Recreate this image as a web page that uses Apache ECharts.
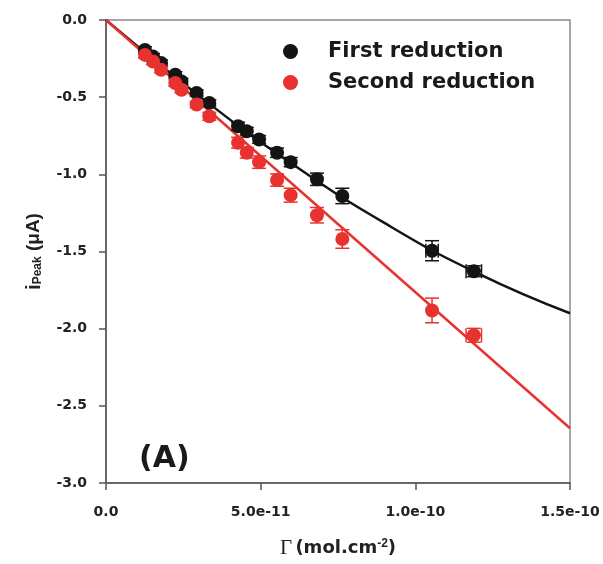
<!DOCTYPE html>
<html>
<head>
<meta charset="utf-8">
<script src="https://cdn.jsdelivr.net/npm/echarts@6/dist/echarts.min.js"></script>
<style>
html,body{margin:0;padding:0;background:#fff;}
#chart{width:603px;height:564px;}
</style>
</head>
<body>
<div id="chart"></div>
<script>
// Gamma values in units of 1e-11 mol.cm^-2
var gammaE11 = [1.26, 1.52, 1.78, 2.24, 2.44, 2.93, 3.34, 4.27, 4.55, 4.95, 5.53, 5.97, 6.82, 7.64, 10.54, 11.89];
var firstPeak = [-0.194, -0.237, -0.279, -0.355, -0.398, -0.473, -0.537, -0.688, -0.721, -0.774, -0.860, -0.921, -1.032, -1.140, -1.495, -1.628];
var secondPeak = [-0.226, -0.269, -0.323, -0.408, -0.452, -0.548, -0.624, -0.795, -0.860, -0.921, -1.037, -1.135, -1.265, -1.419, -1.882, -2.043];
var firstErrY = [0.02, 0.02, 0.02, 0.02, 0.02, 0.02, 0.02, 0.025, 0.025, 0.025, 0.03, 0.03, 0.04, 0.05, 0.065, 0.035];
var secondErrY = [0.02, 0.02, 0.02, 0.02, 0.02, 0.02, 0.025, 0.035, 0.035, 0.04, 0.04, 0.045, 0.05, 0.06, 0.08, 0.045];
var firstErrX = [0, 0, 0, 0, 0, 0, 0, 0, 0, 0, 0, 0, 0, 0, 0.2, 0.25];
var secondErrX = [0, 0, 0, 0, 0, 0, 0, 0, 0, 0, 0, 0, 0, 0, 0, 0.25];
// fit curves
var firstFitX = [0, 3, 6, 9, 12, 15];
var firstFitY = [0, -0.49, -0.93, -1.315, -1.64, -1.90];
var secondFitX = [0, 15];
var secondFitY = [0, -2.645];
var xTickLabels = {0: '0.0', 5: '5.0e-11', 10: '1.0e-10', 15: '1.5e-10'};
var seriesNames = ['First reduction', 'Second reduction'];

var BLACK = '#141414', RED = '#e8322f';
var WIDE = 'DejaVu Sans, Verdana, sans-serif';
var ARIAL = 'Liberation Sans, Arial, sans-serif';

function pts(xs, ys) { return xs.map(function (x, i) { return [x, ys[i]]; }); }
function errData(xs, ys, ey, ex) { return xs.map(function (x, i) { return [x, ys[i], ey[i], ex[i]]; }); }

function errRender(color) {
  return function (params, api) {
    var x = api.value(0), y = api.value(1), ey = api.value(2), ex = api.value(3);
    var c = api.coord([x, y]);
    var top = api.coord([x, y + ey]), bot = api.coord([x, y - ey]);
    var cap = 7;
    var children = [];
    var st = { stroke: color, lineWidth: 1.5 };
    children.push({ type: 'line', shape: { x1: c[0], y1: top[1], x2: c[0], y2: bot[1] }, style: st });
    children.push({ type: 'line', shape: { x1: c[0] - cap, y1: top[1], x2: c[0] + cap, y2: top[1] }, style: st });
    children.push({ type: 'line', shape: { x1: c[0] - cap, y1: bot[1], x2: c[0] + cap, y2: bot[1] }, style: st });
    if (ex > 0) {
      var l = api.coord([x - ex, y]), r = api.coord([x + ex, y]);
      children.push({ type: 'line', shape: { x1: l[0], y1: c[1], x2: r[0], y2: c[1] }, style: st });
      children.push({ type: 'line', shape: { x1: l[0], y1: c[1] - cap, x2: l[0], y2: c[1] + cap }, style: st });
      children.push({ type: 'line', shape: { x1: r[0], y1: c[1] - cap, x2: r[0], y2: c[1] + cap }, style: st });
    }
    return { type: 'group', children: children };
  };
}

var chart = echarts.init(document.getElementById('chart'));
var axisFont = { fontFamily: WIDE, fontWeight: 'bold', fontSize: 14, color: '#222' };

chart.setOption({
  animation: false,
  backgroundColor: '#fff',
  grid: { left: 106, right: 33, top: 20, bottom: 80, show: true, borderColor: '#8a8a8a', borderWidth: 1.5, backgroundColor: 'transparent' },
  xAxis: {
    type: 'value', min: 0, max: 15, interval: 5,
    axisLine: { show: true, onZero: false, lineStyle: { color: '#555', width: 1.5 } },
    axisTick: { show: true, length: 7, lineStyle: { color: '#555', width: 1.5 } },
    splitLine: { show: false },
    axisLabel: Object.assign({ margin: 22, formatter: function (v) { return xTickLabels[v] !== undefined ? xTickLabels[v] : ''; } }, axisFont),
    name: '{g|Γ} {t|(mol.cm}{s|-2}{t|)}',
    nameLocation: 'middle', nameGap: 55,
    nameTextStyle: {
      rich: {
        g: { fontFamily: 'Liberation Serif, Times New Roman, serif', fontSize: 21, color: '#222' },
        t: { fontFamily: WIDE, fontWeight: 'bold', fontSize: 18, color: '#222' },
        s: { fontFamily: ARIAL, fontWeight: 'bold', fontSize: 12, color: '#222', verticalAlign: 'top', padding: [0, 0, 9, 0] }
      }
    }
  },
  yAxis: {
    type: 'value', min: -3, max: 0, interval: 0.5,
    axisLine: { show: true, onZero: false, lineStyle: { color: '#555', width: 1.5 } },
    axisTick: { show: true, length: 7, lineStyle: { color: '#555', width: 1.5 } },
    splitLine: { show: false },
    axisLabel: Object.assign({ margin: 19, formatter: function (v) { return v.toFixed(1); } }, axisFont),
    name: '{i|i}{s|Peak}{t| (μA)}',
    nameLocation: 'middle', nameGap: 62, nameRotate: 90,
    nameTextStyle: {
      rich: {
        i: { fontFamily: ARIAL, fontWeight: 'bold', fontSize: 20, color: '#222' },
        s: { fontFamily: ARIAL, fontWeight: 'bold', fontSize: 12, color: '#222', verticalAlign: 'bottom', padding: [8, 0, 0, 0] },
        t: { fontFamily: ARIAL, fontWeight: 'bold', fontSize: 19, color: '#222' }
      }
    }
  },
  legend: {
    orient: 'vertical', left: 278, top: 36, itemGap: 10,
    icon: 'circle', itemWidth: 15, itemHeight: 15,
    data: seriesNames,
    textStyle: { fontFamily: WIDE, fontWeight: 'bold', fontSize: 21, color: '#1a1a1a', padding: [0, 0, 0, 25] }
  },
  graphic: [{
    type: 'text', left: 139, top: 444,
    style: { text: '(A)', font: 'bold 30px "DejaVu Sans", Verdana, sans-serif', fill: '#1a1a1a' }
  }],
  series: [
    { name: 'fit1', type: 'line', data: pts(firstFitX, firstFitY), smooth: true, showSymbol: false, symbol: 'none',
      lineStyle: { color: BLACK, width: 2.5 }, z: 2, silent: true },
    { name: 'fit2', type: 'line', data: pts(secondFitX, secondFitY), showSymbol: false, symbol: 'none',
      lineStyle: { color: RED, width: 2.5 }, z: 3, silent: true },
    { type: 'custom', renderItem: errRender(BLACK), data: errData(gammaE11, firstPeak, firstErrY, firstErrX), z: 4, silent: true },
    { type: 'custom', renderItem: errRender(RED), data: errData(gammaE11, secondPeak, secondErrY, secondErrX), z: 5, silent: true },
    { name: seriesNames[0], type: 'scatter', data: pts(gammaE11, firstPeak), symbol: 'circle', symbolSize: 14,
      itemStyle: { color: BLACK, opacity: 1 }, z: 6 },
    { name: seriesNames[1], type: 'scatter', data: pts(gammaE11, secondPeak), symbol: 'circle', symbolSize: 14,
      itemStyle: { color: RED, opacity: 1 }, z: 7 }
  ]
});
</script>
</body>
</html>
